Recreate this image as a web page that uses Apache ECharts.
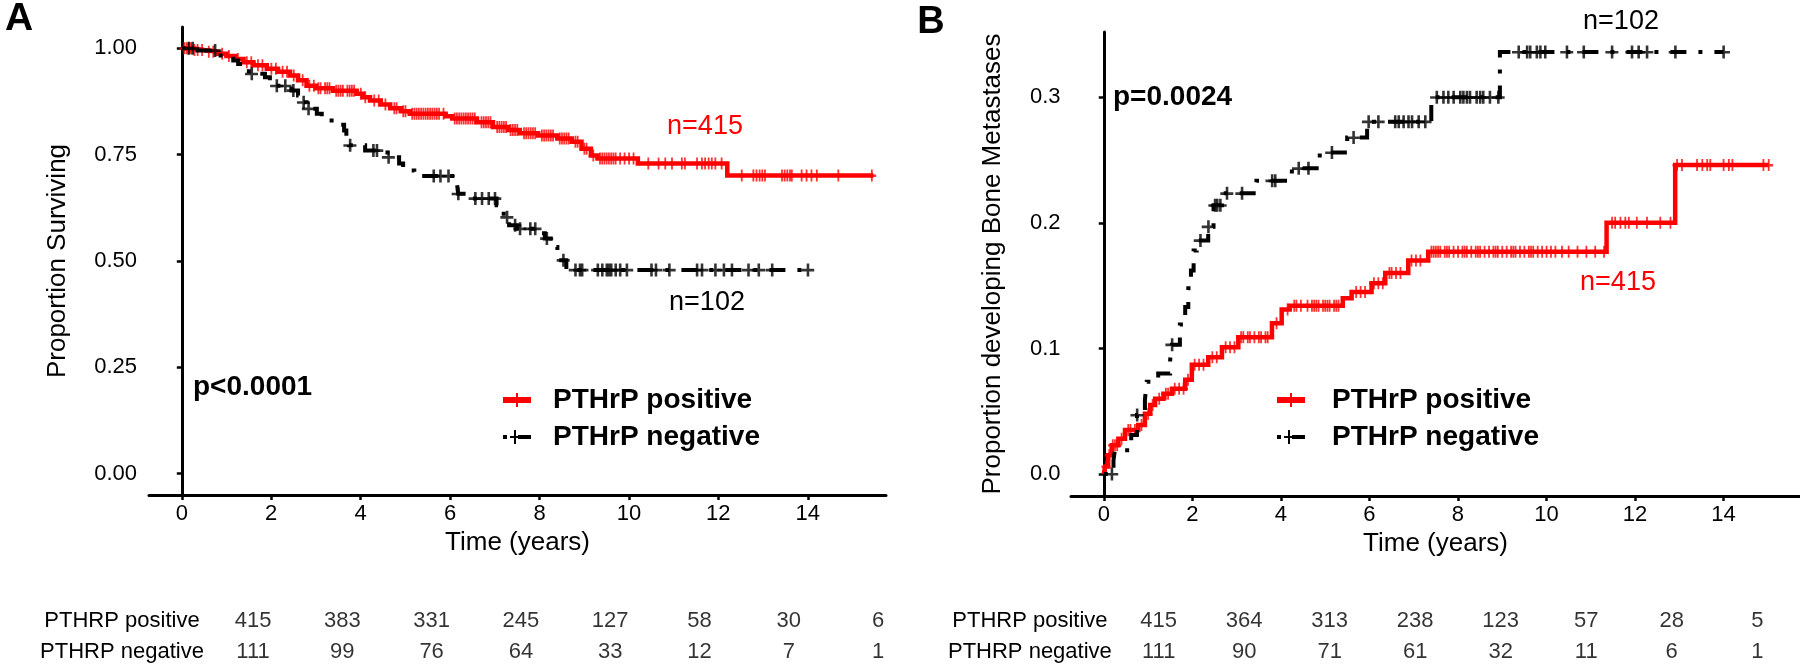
<!DOCTYPE html>
<html><head><meta charset="utf-8">
<script src="https://cdn.jsdelivr.net/npm/echarts@6/dist/echarts.min.js"></script>
<style>html,body{margin:0;padding:0;background:#fff}#c{width:1800px;height:669px}</style>
</head><body><div id="c"></div>
<script>
const FONT = '"Liberation Sans", Arial, Helvetica, sans-serif';
const RED = '#ff0000', BLACK = '#000000';
const groups = ['PTHrP positive', 'PTHrP negative'];
const timeTicks = [0, 2, 4, 6, 8, 10, 12, 14];
const survTicks = [0, 0.25, 0.5, 0.75, 1];
const boneTicks = [0, 0.1, 0.2, 0.3];

// Panel A: overall survival, [time, survival] at each event
const survPosEvents = [[0,1.0],[0.25,0.996],[0.5,0.992],[0.8,0.987],[1.0,0.982],[1.2,0.975],[1.38,0.967],[1.6,0.96],[1.9,0.952],[2.15,0.945],[2.42,0.936],[2.6,0.925],[2.79,0.912],[3.0,0.906],[3.38,0.90],[3.91,0.893],[4.05,0.885],[4.21,0.877],[4.45,0.868],[4.66,0.859],[4.9,0.852],[5.1,0.846],[5.9,0.84],[6.05,0.835],[6.6,0.826],[6.96,0.815],[7.3,0.808],[7.56,0.80],[7.97,0.795],[8.4,0.788],[8.72,0.78],[8.94,0.764],[9.15,0.748],[9.3,0.741],[10.2,0.729],[12.2,0.701],[15.47,0.701]];
const survNegEvents = [[0,1.0],[0.35,0.995],[0.78,0.983],[1.15,0.971],[1.26,0.963],[1.5,0.94],[1.86,0.932],[1.97,0.924],[2.1,0.912],[2.45,0.901],[2.6,0.889],[2.68,0.873],[2.79,0.858],[3.02,0.846],[3.13,0.836],[3.35,0.82],[3.63,0.807],[3.68,0.791],[3.74,0.772],[4.1,0.76],[4.6,0.744],[4.86,0.729],[4.95,0.713],[5.2,0.70],[6.15,0.686],[6.18,0.658],[6.37,0.647],[7.04,0.631],[7.15,0.62],[7.2,0.603],[7.32,0.584],[7.5,0.576],[8.0,0.565],[8.12,0.553],[8.25,0.533],[8.4,0.502],[8.6,0.479],[14.05,0.479]];
const survPosCensor = [0.05,0.1,0.15,0.2,0.28,0.35,0.45,0.6,0.7,0.9,1.05,1.25,1.45,1.55,1.7,1.8,2.0,2.1,2.25,2.35,2.5,2.7,2.85,2.95,3.05,3.1,3.2,3.25,3.3,3.45,3.5,3.55,3.6,3.7,3.75,3.8,3.85,4.0,4.1,4.3,4.4,4.55,4.75,4.8,4.95,5.0,5.15,5.2,5.25,5.3,5.35,5.4,5.45,5.5,5.55,5.6,5.65,5.7,5.75,5.85,6.1,6.15,6.2,6.25,6.3,6.35,6.4,6.45,6.5,6.55,6.7,6.75,6.8,6.85,6.9,7.05,7.1,7.15,7.2,7.25,7.35,7.4,7.45,7.5,7.65,7.7,7.75,7.8,7.85,7.9,8.05,8.1,8.15,8.2,8.25,8.3,8.45,8.5,8.55,8.6,8.65,8.8,8.85,9.0,9.05,9.2,9.35,9.4,9.45,9.5,9.55,9.6,9.65,9.7,9.8,9.9,10.0,10.1,10.43,10.66,10.81,10.96,11.18,11.25,11.52,11.63,11.7,11.78,11.85,11.93,12.07,12.52,12.78,12.85,12.92,12.98,13.04,13.42,13.48,13.54,13.6,13.64,13.86,13.97,14.08,14.2,14.68,15.43];
const survNegCensor = [0.15,0.24,0.74,1.56,2.12,2.31,2.49,2.72,2.83,3.76,4.28,4.36,4.62,5.63,5.78,5.96,6.18,6.56,6.71,6.86,7.0,7.27,7.45,7.56,7.79,7.9,8.16,8.53,8.8,8.9,8.95,9.3,9.4,9.5,9.55,9.6,9.7,9.8,9.95,10.5,10.6,10.9,11.52,11.63,11.93,12.12,12.3,12.67,12.9,13.2,14.0];

// Panel B: cumulative incidence of bone metastases, [time, proportion]
const bonePosEvents = [[0,0],[0.03,0.006],[0.1,0.015],[0.18,0.023],[0.33,0.028],[0.48,0.035],[0.78,0.039],[0.93,0.048],[1.05,0.055],[1.16,0.060],[1.35,0.064],[1.54,0.068],[1.84,0.075],[1.99,0.087],[2.36,0.093],[2.67,0.101],[3.04,0.109],[3.8,0.12],[4.02,0.131],[4.2,0.134],[5.4,0.140],[5.6,0.145],[6.05,0.152],[6.36,0.160],[6.88,0.170],[7.33,0.177],[11.36,0.200],[12.91,0.246],[15.02,0.246]];
const boneNegEvents = [[0,0],[0.22,0.011],[0.25,0.019],[0.62,0.031],[0.75,0.047],[0.93,0.059],[0.97,0.0735],[1.23,0.080],[1.50,0.091],[1.54,0.103],[1.72,0.119],[1.84,0.133],[1.91,0.148],[1.97,0.162],[2.03,0.178],[2.1,0.186],[2.36,0.197],[2.48,0.214],[2.67,0.2235],[3.45,0.2336],[4.25,0.2434],[4.88,0.256],[5.5,0.268],[5.95,0.2806],[7.4,0.300],[8.95,0.336],[14.0,0.336]];
const bonePosCensor = [0.05,0.12,0.2,0.25,0.3,0.4,0.55,0.6,0.7,0.85,1.0,1.1,1.25,1.4,1.45,1.6,1.7,1.8,1.9,2.05,2.15,2.25,2.45,2.55,2.75,2.85,2.95,3.1,3.15,3.25,3.3,3.4,3.5,3.55,3.65,3.7,3.9,4.15,4.3,4.35,4.45,4.6,4.7,4.75,4.8,4.85,4.95,5.0,5.05,5.1,5.2,5.25,5.3,5.7,5.8,5.9,6.1,6.2,6.3,6.45,6.5,6.6,6.7,6.95,7.05,7.15,7.4,7.45,7.5,7.55,7.6,7.7,7.75,7.8,7.9,8.0,8.1,8.15,8.2,8.3,8.4,8.45,8.5,8.6,8.7,8.8,8.85,8.9,9.0,9.1,9.2,9.25,9.3,9.4,9.5,9.6,9.65,9.7,9.8,9.9,10.0,10.1,10.2,10.35,10.5,10.7,10.9,11.1,11.3,11.48,11.55,11.67,11.78,11.86,12.04,12.27,12.57,12.8,12.95,13.06,13.4,13.52,13.63,13.7,14.0,14.12,14.2,14.9,15.02];
const boneNegCensor = [0.18,0.75,1.54,2.18,2.36,2.51,2.56,2.63,2.78,3.12,3.8,3.87,4.4,4.62,5.15,5.64,5.98,6.2,6.58,6.66,6.77,6.88,6.96,7.11,7.26,7.52,7.67,7.78,7.9,8.05,8.12,8.2,8.27,8.42,8.5,8.57,8.72,8.91,9.37,9.56,9.63,9.78,9.86,9.97,10.46,10.84,11.48,11.93,12.08,12.27,12.91,14.0];

// Numbers at risk
const riskRows = ['PTHRP positive', 'PTHRP negative'];
const riskA_pos = [415, 383, 331, 245, 127, 58, 30, 6];
const riskA_neg = [111, 99, 76, 64, 33, 12, 7, 1];
const riskB_pos = [415, 364, 313, 238, 123, 57, 28, 5];
const riskB_neg = [111, 90, 71, 61, 32, 11, 6, 1];

function valueAt(events, t) {
  let v = events[0][1];
  for (const e of events) { if (e[0] <= t) v = e[1]; else break; }
  return v;
}
const PLUS = 'path://M5,0h2.4v5h4.6v2.4h-4.6v4.6h-2.4v-4.6h-5v-2.4h5z';
const ICON_POS = 'path://M0,4h28v6h-28z M13,0h2v14h-2z';
const ICON_NEG = 'path://M0,5h4v4h-4z M7,6h10v2h-10z M11,0h2v14h-2z M15,5h13v4h-13z';

function xMain(gi, min, max) {
  return {
    type: 'value', gridIndex: gi, min: min, max: max,
    axisLine: { onZero: false, lineStyle: { color: BLACK, width: 3 } },
    axisTick: { show: true, length: 5, customValues: timeTicks, lineStyle: { color: BLACK, width: 2.5 } },
    axisLabel: { customValues: timeTicks, margin: 8, fontSize: 22, color: BLACK, fontFamily: FONT },
    splitLine: { show: false },
    name: 'Time (years)', nameLocation: 'middle', nameGap: 33,
    nameTextStyle: { fontSize: 26, color: BLACK, fontFamily: FONT }
  };
}
function yMain(gi, min, max, ticks, dec, name, gap, margin) {
  return {
    type: 'value', gridIndex: gi, min: min, max: max,
    axisLine: { show: true, lineStyle: { color: BLACK, width: 3 } },
    axisTick: { show: true, length: 5, customValues: ticks, lineStyle: { color: BLACK, width: 2.5 } },
    axisLabel: { customValues: ticks, margin: margin, fontSize: 22, color: BLACK, fontFamily: FONT,
      formatter: v => Number(v).toFixed(dec) },
    splitLine: { show: false },
    name: name, nameLocation: 'middle', nameGap: gap,
    nameTextStyle: { fontSize: 26, color: BLACK, fontFamily: FONT }
  };
}
function xTable(gi) {
  return { type: 'value', gridIndex: gi, min: -0.5, max: 7.5, show: false };
}
function yTable(gi, margin) {
  return {
    type: 'category', gridIndex: gi, data: riskRows, inverse: true,
    axisLine: { show: false }, axisTick: { show: false }, splitLine: { show: false },
    axisLabel: { margin: margin, align: 'center', fontSize: 22, color: BLACK, fontFamily: FONT }
  };
}
function kmLine(name, events, gi, color, width, dash, z) {
  return {
    type: 'line', name: name, xAxisIndex: gi, yAxisIndex: gi, data: events, step: 'end',
    symbol: 'none', showSymbol: false, silent: true, z: z,
    itemStyle: { color: color },
    lineStyle: { color: color, width: width, type: dash, cap: 'butt', join: 'miter' }
  };
}
function censor(name, events, times, gi, color, size, z) {
  return {
    type: 'scatter', name: name + ' censored', xAxisIndex: gi, yAxisIndex: gi,
    data: times.map(t => [t, valueAt(events, t)]),
    symbol: PLUS, symbolSize: size, silent: true, z: z,
    itemStyle: { color: color, borderWidth: 0 }
  };
}
function riskSeries(gi, row, values) {
  return {
    type: 'scatter', xAxisIndex: gi, yAxisIndex: gi, silent: true,
    data: values.map((v, i) => [i, row, v]),
    symbolSize: 1, itemStyle: { color: 'rgba(0,0,0,0)' },
    label: { show: true, position: 'inside', formatter: p => String(p.value[2]),
      fontSize: 22, color: BLACK, fontFamily: FONT }
  };
}
function legendFor(left, pad) {
  return {
    selectedMode: false, orient: 'vertical', left: left, top: 380,
    itemWidth: 28, itemHeight: 14, itemGap: 7,
    itemStyle: { borderWidth: 0 },
    data: [
      { name: groups[0], icon: ICON_POS, itemStyle: { color: RED, borderWidth: 0 } },
      { name: groups[1], icon: ICON_NEG, itemStyle: { color: BLACK, borderWidth: 0 } }
    ],
    textStyle: { fontSize: 28, fontWeight: 'bold', color: BLACK, fontFamily: FONT, lineHeight: 30, padding: [0, 0, 0, pad] }
  };
}
function txt(text, x, y, size, color, bold, align) {
  return {
    type: 'text', x: x, y: y, silent: true,
    style: { text: text, fill: color, font: (bold ? 'bold ' : '') + size + 'px ' + FONT,
      align: align || 'center', verticalAlign: 'middle',
      textAlign: align || 'center', textVerticalAlign: 'middle' }
  };
}

const chart = echarts.init(document.getElementById('c'), null, { renderer: 'canvas' });
chart.setOption({
  animation: false,
  backgroundColor: '#ffffff',
  grid: [
    { left: 149, top: 27, width: 737, height: 468 },
    { left: 1071, top: 32, width: 729, height: 464 },
    { left: 208.4, top: 605, width: 714.3, height: 63 },
    { left: 1115.9, top: 605, width: 706.3, height: 63 }
  ],
  xAxis: [ xMain(0, -0.734, 15.75), xMain(1, -0.74, 15.73), xTable(2), xTable(3) ],
  yAxis: [
    yMain(0, -0.05, 1.05, survTicks, 2, 'Proportion Surviving', 78, 12),
    yMain(1, -0.0175, 0.352, boneTicks, 1, 'Proportion developing Bone Metastases', 65, 10.5),
    yTable(2, 86.4), yTable(3, 86)
  ],
  legend: [ legendFor(498, 17), legendFor(1272, 22) ],
  series: [
    kmLine(groups[0], survPosEvents, 0, RED, 4.5, 'solid', 2),
    censor(groups[0], survPosEvents, survPosCensor, 0, RED, [9, 12], 3),
    kmLine(groups[1], survNegEvents, 0, BLACK, 4, [4, 12, 16, 12], 4),
    censor(groups[1], survNegEvents, survNegCensor, 0, BLACK, [13, 13], 5),
    kmLine(groups[0], bonePosEvents, 1, RED, 4.5, 'solid', 2),
    censor(groups[0], bonePosEvents, bonePosCensor, 1, RED, [9, 12], 3),
    kmLine(groups[1], boneNegEvents, 1, BLACK, 4, [4, 12, 16, 12], 4),
    censor(groups[1], boneNegEvents, boneNegCensor, 1, BLACK, [13, 13], 5),
    riskSeries(2, riskRows[0], riskA_pos), riskSeries(2, riskRows[1], riskA_neg),
    riskSeries(3, riskRows[0], riskB_pos), riskSeries(3, riskRows[1], riskB_neg)
  ],
  graphic: [
    txt('A', 19, 19, 39, BLACK, true),
    txt('B', 931, 23, 38, BLACK, true),
    txt('n=415', 705, 127, 27, RED, false),
    txt('n=102', 707, 303, 27, BLACK, false),
    txt('p<0.0001', 193, 387, 28, BLACK, true, 'left'),
    txt('n=102', 1621, 22, 27, BLACK, false),
    txt('n=415', 1618, 283, 27, RED, false),
    txt('p=0.0024', 1113, 97, 28, BLACK, true, 'left')
  ]
});
</script>
</body></html>
